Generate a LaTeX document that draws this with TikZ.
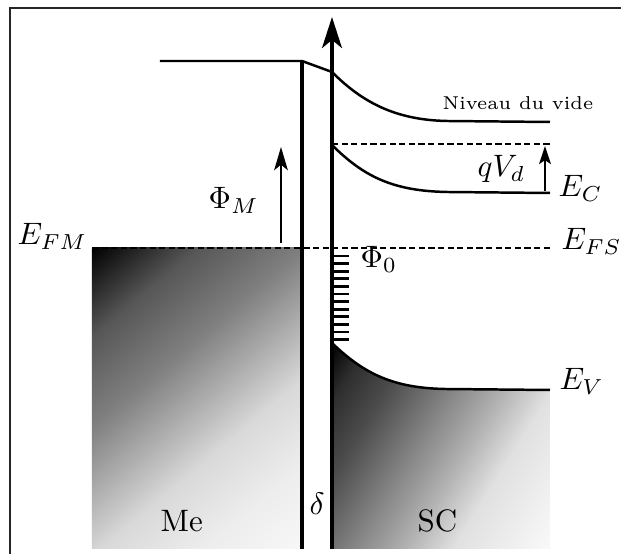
\documentclass[tikz,border=0pt]{standalone}
\usetikzlibrary{arrows.meta}
\pgfdeclarehorizontalshading{metalshade}{320bp}{color(0bp)=(black); color(22bp)=(black!66); color(44bp)=(black!50); color(66bp)=(black!26); color(76bp)=(black!15); color(97bp)=(black!7); color(118bp)=(black!3); color(240bp)=(black!2)}
\pgfdeclarehorizontalshading{scshade}{260bp}{color(0bp)=(black); color(10bp)=(black!82); color(23bp)=(black!70); color(35bp)=(black!55); color(55bp)=(black!30); color(68bp)=(black!12); color(95bp)=(black!2); color(200bp)=(black!2)}
\begin{document}
\begin{tikzpicture}[x=0.3226pt,y=-0.3226pt,
  frameline/.style={line width=0.5pt,black!85},
  thickline/.style={line width=1.1pt},
  bandline/.style={line width=0.8pt},
  levelline/.style={line width=0.8pt,dash pattern=on 2pt off 1.1pt},
  hatchline/.style={line width=0.9pt},
  lbl/.style={inner sep=0pt,anchor=base west},
  shadebox/.style={inner sep=0pt,outer sep=0pt,anchor=west}]
\useasboundingbox (0,0) rectangle (621,554);
% frame (top and left)
\draw[frameline] (621,8) -- (10,8) -- (10,554);
% metal block
\begin{scope}
  \clip (92,248) rectangle (302,549);
  \node[shadebox,rotate=-50] (metalfill) at (92,248) {\pgfuseshading{metalshade}};
\end{scope}
% semiconductor valence band fill
\begin{scope}
  \clip (332,343) .. controls (365,375) and (395,388) .. (445,389) -- (550,390)
        -- (550,549) -- (332,549) -- cycle;
  \node[shadebox,rotate=-32] (scfill) at (332,343) {\pgfuseshading{scshade}};
\end{scope}
% valence band edge
\draw[bandline] (332,343) .. controls (365,375) and (395,388) .. (445,389) -- (550,390);
% vacuum level
\draw[bandline] (160,61) -- (302,61) -- (332,72)
  .. controls (362,102) and (395,120) .. (447,121) -- (550,122);
% conduction band
\draw[bandline] (332,145) .. controls (365,178) and (395,191) .. (447,192) -- (550,193);
% dashed levels
\draw[levelline] (332,144) -- (550,144);
\draw[levelline] (92,248) -- (550,248);
% interface states
\foreach \yy in {256,263.6,...,341} \draw[hatchline] (332,\yy) -- (349,\yy);
% metal / insulator lines
\draw[thickline] (302,61) -- (302,549);
\draw[thickline,-{Stealth[length=10pt,width=6.4pt,inset=2.6pt]}] (332,549) -- (332,17);
% arrows
\coordinate (phiMa) at (281,243);
\coordinate (phiMb) at (281,147);
\draw[line width=0.75pt,-{Stealth[length=7.5pt,width=4.4pt,inset=1.8pt]}] (phiMa) -- (phiMb);
\coordinate (qVa) at (545,191);
\coordinate (qVb) at (545,146);
\draw[line width=0.75pt,-{Stealth[length=5.8pt,width=3.8pt,inset=1.2pt]}] (qVa) -- (qVb);
% labels
\node[lbl] (efm) at (17,245) {$E_{FM}$};
\node[lbl] (efs) at (561,250) {$E_{FS}$};
\node[lbl] (phi0) at (360,268) {$\Phi_0$};
\node[lbl] (ev) at (559,390) {$E_V$};
\node[lbl] (ec) at (558,197) {$E_C$};
\node[lbl] (qvd) at (477,177) {$qV_d$};
\node[lbl] (vide) at (442,110) {\fontsize{6}{7}\selectfont Niveau du vide};
\node[lbl] (phim) at (208,209) {$\Phi_M$};
\node[lbl] (delta) at (309,515) {$\delta$};
\node[lbl] (me) at (160,532) {Me};
\node[lbl] (sc) at (417,532) {SC};
\end{tikzpicture}
\end{document}
